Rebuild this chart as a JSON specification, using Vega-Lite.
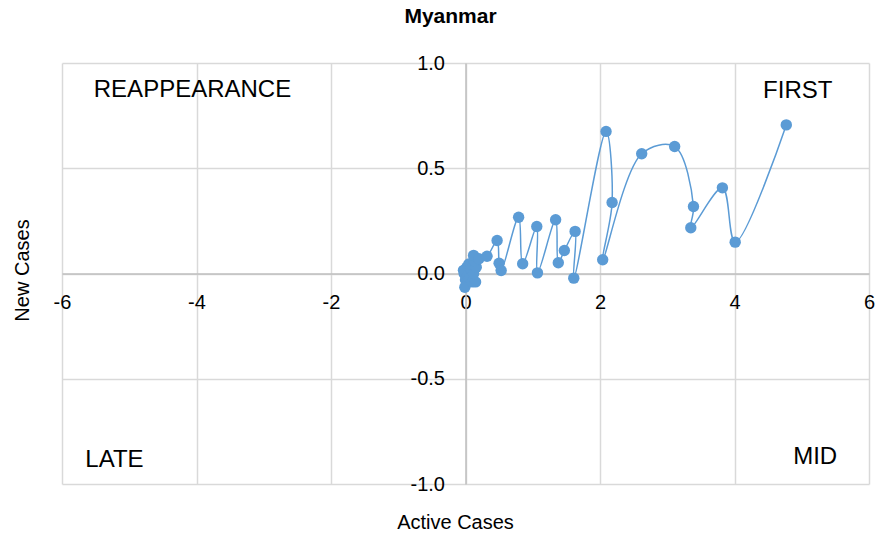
{
  "$schema": "https://vega.github.io/schema/vega-lite/v6.json",
  "autosize": {"type": "none"},
  "padding": {"left": 62, "top": 63, "right": 13, "bottom": 59},
  "width": 807,
  "height": 421,
  "background": "white",
  "config": {
    "font": "Liberation Sans",
    "view": {"stroke": null}
  },
  "title": {
    "text": "Myanmar",
    "font": "Liberation Sans",
    "fontSize": 21,
    "fontWeight": "bold",
    "color": "#000000",
    "anchor": "middle",
    "dx": -15,
    "offset": 26
  },
  "datasets": {
    "series": [
      {"order": 1, "active": 0.0, "new": 0.0},
      {"order": 2, "active": 0.01, "new": 0.02},
      {"order": 3, "active": -0.02, "new": 0.0},
      {"order": 4, "active": 0.0, "new": -0.03},
      {"order": 5, "active": -0.01, "new": -0.065},
      {"order": 6, "active": 0.02, "new": 0.03},
      {"order": 7, "active": -0.03, "new": 0.015},
      {"order": 8, "active": 0.05, "new": 0.045},
      {"order": 9, "active": 0.03, "new": -0.01},
      {"order": 10, "active": 0.06, "new": -0.02},
      {"order": 11, "active": 0.08, "new": 0.02},
      {"order": 12, "active": 0.1, "new": -0.04},
      {"order": 13, "active": 0.15, "new": -0.04},
      {"order": 14, "active": 0.12, "new": 0.0},
      {"order": 15, "active": 0.16, "new": 0.03},
      {"order": 16, "active": 0.13, "new": 0.06},
      {"order": 17, "active": 0.12, "new": 0.086},
      {"order": 18, "active": 0.2, "new": 0.07},
      {"order": 19, "active": 0.32, "new": 0.082},
      {"order": 20, "active": 0.47, "new": 0.157},
      {"order": 21, "active": 0.5, "new": 0.049},
      {"order": 22, "active": 0.53, "new": 0.014},
      {"order": 23, "active": 0.79, "new": 0.267},
      {"order": 24, "active": 0.85, "new": 0.046},
      {"order": 25, "active": 1.06, "new": 0.223},
      {"order": 26, "active": 1.07, "new": 0.003},
      {"order": 27, "active": 1.34, "new": 0.255},
      {"order": 28, "active": 1.38, "new": 0.051},
      {"order": 29, "active": 1.47, "new": 0.109},
      {"order": 30, "active": 1.63, "new": 0.2},
      {"order": 31, "active": 1.61, "new": -0.022},
      {"order": 32, "active": 2.09, "new": 0.675},
      {"order": 33, "active": 2.18, "new": 0.337},
      {"order": 34, "active": 2.04, "new": 0.065},
      {"order": 35, "active": 2.62, "new": 0.569},
      {"order": 36, "active": 3.11, "new": 0.603},
      {"order": 37, "active": 3.39, "new": 0.318},
      {"order": 38, "active": 3.35, "new": 0.217},
      {"order": 39, "active": 3.82, "new": 0.407},
      {"order": 40, "active": 4.01, "new": 0.149},
      {"order": 41, "active": 4.77, "new": 0.706}
    ],
    "quadrants": [
      {"label": "REAPPEARANCE", "qx": -4.06, "qy": 0.87},
      {"label": "FIRST", "qx": 4.94, "qy": 0.865},
      {"label": "LATE", "qx": -5.22, "qy": -0.885},
      {"label": "MID", "qx": 5.2, "qy": -0.87}
    ]
  },
  "layer": [
    {
      "data": {"name": "series"},
      "mark": {"type": "line", "interpolate": "catmull-rom", "color": "#5b9bd5", "strokeWidth": 1.5},
      "encoding": {
        "x": {
          "field": "active", "type": "quantitative",
          "scale": {"domain": [-6, 6], "nice": false, "zero": false},
          "axis": {
            "title": "Active Cases",
            "values": [-6, -4, -2, 0, 2, 4, 6],
            "labelExpr": "datum.value < 0 ? '-' + format(-datum.value, 'd') : format(datum.value, 'd')",
            "offset": -210.5,
            "ticks": false,
            "domain": true,
            "domainColor": "#bfbfbf",
            "domainWidth": 1.5,
            "grid": true,
            "gridColor": "#d9d9d9",
            "gridWidth": 1.5,
            "labelFont": "Liberation Sans",
            "labelFontSize": 20,
            "labelColor": "#000000",
            "labelPadding": 19,
            "labelFlush": false,
            "labelOverlap": false,
            "titleFont": "Liberation Sans",
            "titleFontSize": 20,
            "titleFontWeight": "normal",
            "titleColor": "#000000",
            "titleX": 393,
            "titleY": 249,
            "titleAnchor": null,
            "titleAlign": "center",
            "titleBaseline": "middle"
          }
        },
        "y": {
          "field": "new", "type": "quantitative",
          "scale": {"domain": [-1, 1], "nice": false, "zero": false},
          "axis": {
            "title": "New Cases",
            "values": [-1, -0.5, 0, 0.5, 1],
            "labelExpr": "datum.value < 0 ? '-' + format(-datum.value, '.1f') : format(datum.value, '.1f')",
            "offset": -403.5,
            "ticks": false,
            "domain": true,
            "domainColor": "#bfbfbf",
            "domainWidth": 1.5,
            "grid": true,
            "gridColor": "#d9d9d9",
            "gridWidth": 1.5,
            "labelFont": "Liberation Sans",
            "labelFontSize": 20,
            "labelColor": "#000000",
            "labelPadding": 21,
            "labelFlush": false,
            "labelOverlap": false,
            "titleFont": "Liberation Sans",
            "titleFontSize": 20,
            "titleFontWeight": "normal",
            "titleColor": "#000000",
            "titleX": -443.5,
            "titleY": 207,
            "titleAngle": -90,
            "titleAnchor": null,
            "titleAlign": "center",
            "titleBaseline": "middle"
          }
        },
        "order": {"field": "order", "type": "quantitative"}
      }
    },
    {
      "data": {"name": "series"},
      "mark": {"type": "point", "filled": true, "opacity": 1, "size": 130, "color": "#5b9bd5"},
      "encoding": {
        "x": {"field": "active", "type": "quantitative"},
        "y": {"field": "new", "type": "quantitative"}
      }
    },
    {
      "data": {"name": "quadrants"},
      "mark": {"type": "text", "font": "Liberation Sans", "fontSize": 24, "color": "#000000", "align": "center", "baseline": "middle"},
      "encoding": {
        "x": {"field": "qx", "type": "quantitative"},
        "y": {"field": "qy", "type": "quantitative"},
        "text": {"field": "label"}
      }
    }
  ]
}
